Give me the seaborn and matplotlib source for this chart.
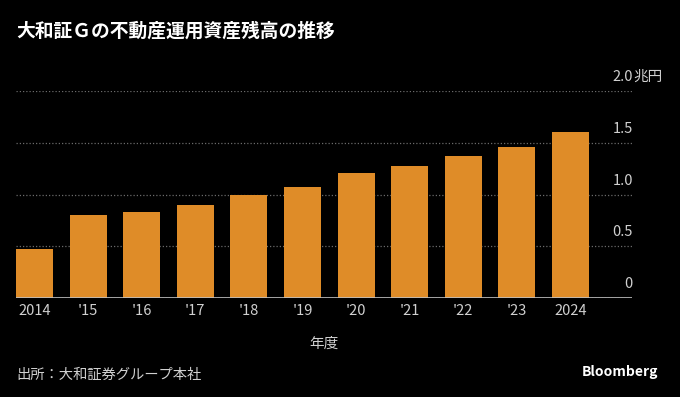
import matplotlib
matplotlib.use('Agg')
import matplotlib.pyplot as plt
import matplotlib.transforms as mtransforms
import seaborn as sns

years = ['2014', "'15", "'16", "'17", "'18", "'19", "'20", "'21", "'22", "'23", '2024']
assets = [0.47, 0.80, 0.83, 0.90, 1.00, 1.07, 1.21, 1.28, 1.37, 1.46, 1.60]
y_ticks = [0, 0.5, 1.0, 1.5, 2.0]
y_labels = ['0', '0.5', '1.0', '1.5', '2.0']

sns.set_style('dark')
plt.rcParams['font.family'] = ['Noto Sans CJK JP', 'DejaVu Sans']

bar_color = '#DF8C28'
text_color = '#d0d0d0'

fig = plt.figure(figsize=(6.8, 3.97), dpi=100, facecolor='black')
ax = fig.add_axes([16 / 680, 1 - 298 / 397, 616 / 680, (298 - 91) / 397])
ax.set_facecolor('black')

sns.barplot(x=years, y=assets, color=bar_color, saturation=1, width=0.69, ax=ax,
            linewidth=0, edgecolor='none', zorder=3)

ax.set_xlim(-0.345, 11.15)
ax.set_ylim(0, 2.0)
ax.set_yticks(y_ticks)
ax.set_yticklabels([])
ax.tick_params(axis='y', length=0)
ax.tick_params(axis='x', length=0, pad=4, labelsize=10.5, labelcolor=text_color)
ax.grid(axis='y', color='#6a6a6a', linestyle=(0, (1, 1.6)), linewidth=0.9, zorder=1)
ax.grid(axis='x', visible=False)
ax.axhline(0, color='#c0c0c0', linewidth=1.2, zorder=4)
for side in ['top', 'right', 'left', 'bottom']:
    ax.spines[side].set_visible(False)

# y labels sit above their gridlines, right aligned
trans = mtransforms.blended_transform_factory(ax.transAxes, ax.transData)
for val, lab in zip(y_ticks, y_labels):
    ax.annotate(lab, xy=(1.0015, val), xycoords=trans, xytext=(0, 10), textcoords='offset points',
                ha='right', va='center', fontsize=10.5, color=text_color, annotation_clip=False)
ax.annotate('兆円', xy=(1.0015, 2.0), xycoords=trans, xytext=(0, 10), textcoords='offset points',
            ha='left', va='center', fontsize=10.5, color=text_color, annotation_clip=False)

ax.set_xlabel('年度', fontsize=10.5, color=text_color, labelpad=14)
ax.set_ylabel('')

fig.text(16 / 680, 1 - 31 / 397, '大和証Ｇの不動産運用資産残高の推移', fontsize=13.5, fontweight='bold',
         color='white', ha='left', va='center')
fig.text(16 / 680, 1 - 375 / 397, '出所：大和証券グループ本社', fontsize=10.3, color=text_color,
         ha='left', va='center')
fig.text(658 / 680, 1 - 372 / 397, 'Bloomberg', fontsize=10, fontweight='bold', color='white',
         ha='right', va='center')

plt.savefig('out.png', dpi=100, facecolor='black')
plt.close()
